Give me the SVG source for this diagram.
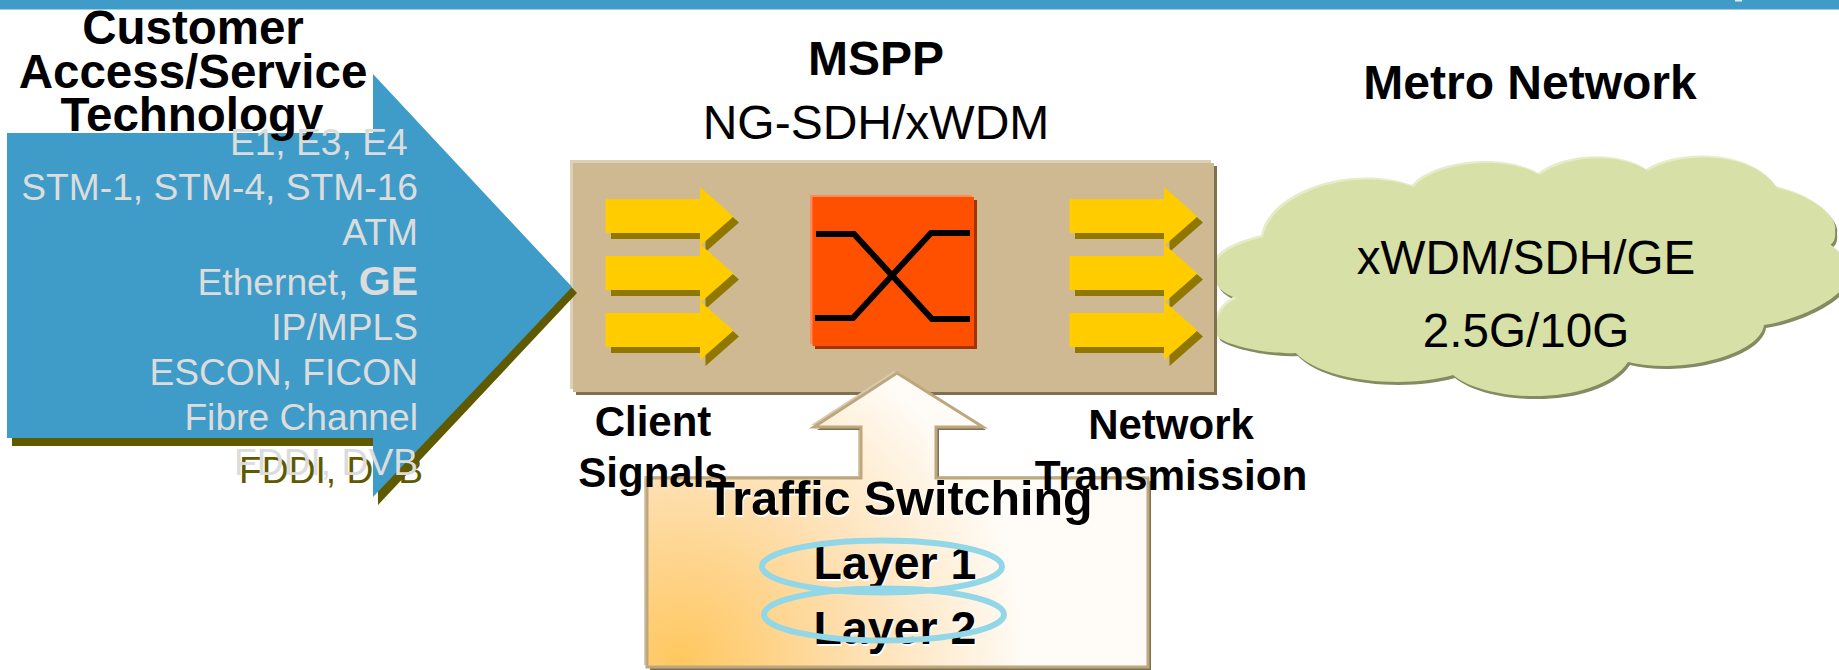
<svg xmlns="http://www.w3.org/2000/svg" xmlns:xlink="http://www.w3.org/1999/xlink" width="1839" height="670" viewBox="0 0 1839 670">
<style>
text{font-family:"Liberation Sans",Arial,sans-serif}
.b{font-weight:700;fill:#000;text-anchor:middle}
.r{fill:#000;text-anchor:middle}
.g{fill:#dcdcdc;font-size:37.200px;text-anchor:end}
.h{fill:#fff;font-weight:700;text-anchor:middle}
.ring{fill:none;stroke:#92d7e8;stroke-width:6}
</style>
<defs>
<radialGradient id="fade" gradientUnits="userSpaceOnUse" cx="680" cy="660" r="350">
<stop offset="0" stop-color="#ffc75f"/><stop offset="0.5" stop-color="#fedfb0"/><stop offset="1" stop-color="#fffcf8"/>
</radialGradient>
<g id="ya">
<path d="M611,205H705.500V193L739,222.500L705.500,252V239H611Z" fill="#8f7700"/>
<path d="M605.500,199H700V187L733.500,216.500L700,246V233H605.500Z" fill="#ffcc00"/>
</g>
<path id="cl" d="M1263,237C1270,195 1350,165 1414,187C1430,165 1500,152 1540,175C1565,155 1620,152 1648,171C1680,150 1755,152 1777,188C1810,195 1838,215 1835,230C1836,240 1833,243 1830,245C1845,255 1850,265 1848,275C1850,295 1800,320 1764,325C1760,355 1680,375 1628,362C1600,405 1490,405 1453,375C1400,390 1320,380 1296,353C1270,355 1225,345 1218,337C1212,320 1222,305 1237,298C1225,295 1216,287 1216,280C1212,265 1212,250 1263,237Z"/>
<path id="up" d="M897,373L983,427H936V478H1148V667H647V478H861V427H814Z"/>
</defs>
<rect id="top-bar" x="0" y="0" width="1839" height="9.500" fill="#3f9cc9"/>
<rect x="1735" y="0" width="7" height="1.500" fill="#dfeef6"/>

<g id="metro-network">
<use xlink:href="#cl" href="#cl" transform="translate(2,3)" fill="#858a60"/>
<use xlink:href="#cl" href="#cl" transform="translate(-2,-2)" fill="#e6ecca"/>
<use xlink:href="#cl" href="#cl" fill="#d7e0a7"/>
<text class="b" font-size="48" x="1530" y="99">Metro Network</text>
<text class="r" font-size="47.600" x="1526" y="274">xWDM/SDH/GE</text>
<text class="r" font-size="47.600" x="1526" y="347">2.5G/10G</text>
</g>

<g id="mspp">
<text class="b" font-size="48" x="876" y="75">MSPP</text>
<text class="r" font-size="48" x="876" y="139">NG-SDH/xWDM</text>
<rect x="570" y="160" width="641" height="229" fill="#ddd0b5"/>
<rect x="576" y="166" width="641" height="229" fill="#80724f"/>
<rect x="573" y="163" width="641" height="229" fill="#ceb993"/>
</g>

<g id="customer-access">
<text class="g" x="423" y="483" style="fill:#5f5a00">FDDI, DVB</text>
<path d="M12,141H378V82L577,293L378,505V446H12Z" fill="#5f5a00"/>
<path d="M7,133H373V74L572,287L373,497V438H7Z" fill="#3f9cc9"/>
<text class="b" font-size="47.500" x="193" y="44">Customer</text>
<text class="b" font-size="47.500" x="193" y="88">Access/Service</text>
<text class="b" font-size="47.500" x="192" y="131">Technology</text>
<text class="g" x="418" y="155" xml:space="preserve">E1, E3, E4 </text>
<text class="g" x="418" y="200">STM-1, STM-4, STM-16</text>
<text class="g" x="418" y="245">ATM</text>
<text class="g" x="418" y="295">Ethernet, <tspan font-weight="700" font-size="41">GE</tspan></text>
<text class="g" x="418" y="340">IP/MPLS</text>
<text class="g" x="418" y="385">ESCON, FICON</text>
<text class="g" x="418" y="430">Fibre Channel</text>
<text class="g" x="418" y="475">FDDI, DVB</text>
</g>

<g id="client-arrows">
<use xlink:href="#ya" href="#ya"/>
<use xlink:href="#ya" href="#ya" y="57"/>
<use xlink:href="#ya" href="#ya" y="114"/>
</g>
<g id="network-arrows">
<use xlink:href="#ya" href="#ya" x="464"/>
<use xlink:href="#ya" href="#ya" x="464" y="57"/>
<use xlink:href="#ya" href="#ya" x="464" y="114"/>
</g>

<g id="switch">
<rect x="810" y="195" width="162" height="149" fill="#ff8a5a"/>
<rect x="815" y="200" width="162" height="149" fill="#a33300"/>
<rect x="812.500" y="197" width="161.500" height="149" fill="#ff5000"/>
<path d="M816,234H854L932,319H970M815,318H853L931,233H970" fill="none" stroke="#000" stroke-width="6"/>
</g>

<g id="traffic-switching">
<use xlink:href="#up" href="#up" fill="#d8cbb0" transform="translate(-3,-2)"/>
<use xlink:href="#up" href="#up" fill="#7f704f" transform="translate(3,3)"/>
<use xlink:href="#up" href="#up" fill="url(#fade)" stroke="#bda77f" stroke-width="3"/>
<text class="h" font-size="48.400" x="900" y="517">Traffic Switching</text>
<text class="b" font-size="48.400" x="899" y="515">Traffic Switching</text>
<text class="h" font-size="46.500" x="896" y="581">Layer 1</text>
<text class="b" font-size="46.500" x="895" y="579">Layer 1</text>
<text class="h" font-size="46.500" x="896" y="646">Layer 2</text>
<text class="b" font-size="46.500" x="895" y="644">Layer 2</text>
<ellipse class="ring" cx="882" cy="566.500" rx="120" ry="26"/>
<ellipse class="ring" cx="884" cy="614.500" rx="120" ry="26"/>
</g>

<g id="labels">
<text class="b" font-size="42" x="653" y="436">Client</text>
<text class="b" font-size="42" x="653" y="487">Signals</text>
<text class="b" font-size="42" x="1171" y="439">Network</text>
<text class="b" font-size="42.300" x="1171" y="490">Transmission</text>
</g>
<g id="connectors"/>
</svg>
